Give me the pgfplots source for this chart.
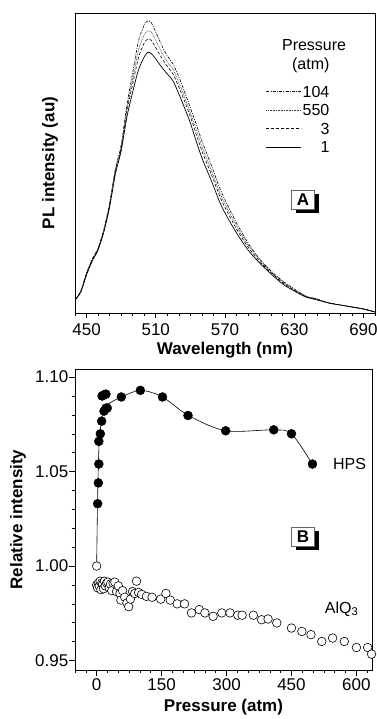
\documentclass[border=0pt]{standalone}
\usepackage{fontspec}
\setmainfont{Liberation Sans}
\usepackage{pgfplots}
\pgfplotsset{compat=1.18}
\begin{document}
\begin{tikzpicture}
\path[use as bounding box] (0pt,0pt) rectangle (376pt,719pt);
\pgfplotsset{
  myaxis/.style={
    scale only axis,
    tick align=outside,
    xtick pos=lower, ytick pos=left,
    major tick length=5.5pt, minor tick length=3pt,
    tick style={black, line width=0.6pt},
    axis line style={line width=0.8pt},
    ticklabel style={font=\fontsize{17}{20}\selectfont},
    /pgf/number format/assume math mode=true,
    label style={font=\bfseries\fontsize{17}{20}\selectfont},
  }
}
% ---------------- Panel A ----------------
\begin{axis}[myaxis,
  at={(75pt,406pt)}, anchor=south west,
  width=300pt, height=300pt,
  xmin=440, xmax=700, ymin=0, ymax=300,
  xtick={390,450,510,570,630,690,750}, minor x tick num=5,
  ytick=\empty,
  xticklabel style={yshift=-2pt},
  xlabel={Wavelength (nm)}, ylabel={PL intensity (au)},
  xlabel style={at={(axis description cs:0.5,-0.1233)}, anchor=center},
  ylabel style={at={(axis description cs:-0.0833,0.5)}, anchor=center},
  legend style={at={(axis description cs:0.636,0.758)}, anchor=north west,
    draw=none, fill=none, inner sep=0pt,
    font=\fontsize{16}{19}\selectfont,
    nodes={inner sep=0pt, text height=11.5pt, text depth=0pt},
    /tikz/row sep=7pt, /tikz/column sep=1pt},
  legend cell align=right,
  legend image code/.code={\draw[#1] (0pt,0pt) -- (35pt,0pt);},
]
\addplot[black, line width=0.6pt, smooth, dash pattern=on 3pt off 1.2pt on 1pt off 1.2pt] coordinates {
(440,13) (445,22) (450,40) (455,54) (460,65) (465,84) (470,110) (475,144) (480,168)
(485,208) (490,240) (495,272) (500,288) (503,292) (506,290.5) (510,281) (515,268)
(520,257) (525,249) (530,236) (535,221) (540,205) (545,189) (550,172) (555,157)
(560,142) (565,126) (570,113) (580,90) (590,70) (600,54) (610,42) (620,32) (630,24)
(640,17) (650,14) (660,10) (670,8) (680,6) (690,4) (700,1)};
\addlegendentry{104}
\addplot[black!75, line width=0.6pt, smooth, dash pattern=on 0.8pt off 0.8pt] coordinates {
(440,13) (445,21.5) (450,39.5) (455,53.5) (460,64.5) (465,83) (470,108.5) (475,142.5)
(480,166) (485,204) (490,234) (495,263) (500,278) (503,282) (506,281) (510,272.5)
(515,261) (520,251) (525,243.5) (530,230.5) (535,216) (540,200) (545,183.5) (550,166.5)
(555,152) (560,137) (565,121.5) (570,109) (580,87) (590,68) (600,53) (610,41) (620,31)
(630,23.5) (640,16.7) (650,13.7) (660,10) (670,8) (680,6) (690,4) (700,1)};
\addlegendentry{550}
\addplot[black, line width=0.6pt, smooth, dash pattern=on 3pt off 2pt] coordinates {
(440,13) (445,21) (450,39) (455,53) (460,64) (465,82) (470,107.5) (475,141) (480,164.5)
(485,201.5) (490,229) (495,255) (500,270) (503,273.7) (506,272.7) (510,265.3) (515,255.2)
(520,246.6) (525,239) (530,226) (535,211.7) (540,196.3) (545,179) (550,162) (555,147.7)
(560,133.3) (565,118) (570,105.5) (580,84) (590,66) (600,51.7) (610,40.3) (620,30.3)
(630,22.8) (640,16.4) (650,13.4) (660,10) (670,8) (680,6) (690,4) (700,1)};
\addlegendentry{3}
\addplot[black, line width=0.7pt, smooth] coordinates {
(440,13) (445,21) (450,38) (455,52) (460,63) (465,81) (470,106) (475,139) (480,162)
(485,196) (490,221) (495,243) (500,256) (503,260.5) (506,259.5) (510,254) (515,246)
(520,239) (525,232) (530,219) (535,205) (540,190) (545,172) (550,155) (555,141)
(560,127) (565,112) (570,100) (580,80) (590,63) (600,50) (610,39) (620,29) (630,22)
(640,16) (650,13) (660,10) (670,8) (680,6) (690,4) (700,1)};
\addlegendentry{1}
\node[font=\fontsize{16}{19}\selectfont] at (rel axis cs:0.797,0.893) {Pressure};
\node[font=\fontsize{16}{19}\selectfont] at (rel axis cs:0.786,0.827) {(atm)};
\node[fill=black, minimum width=23pt, minimum height=19pt, inner sep=0pt, xshift=4pt, yshift=-4pt] at (rel axis cs:0.76,0.377) {};
\node[draw=black!60, fill=white, line width=0.6pt, minimum width=23pt, minimum height=19pt, inner sep=0pt, font=\bfseries\fontsize{17}{20}\selectfont] at (rel axis cs:0.76,0.377) {A};
\end{axis}
% ---------------- Panel B ----------------
\begin{axis}[myaxis,
  at={(75pt,49pt)}, anchor=south west,
  width=297pt, height=301pt,
  xmin=-50, xmax=636, ymin=0.945, ymax=1.1043,
  xtick={-150,0,150,300,450,600,750}, minor x tick num=5,
  ytick={0.90,0.95,1.00,1.05,1.10,1.15}, minor y tick num=4,
  yticklabel style={inner sep=1pt, /pgf/number format/.cd, fixed, fixed zerofill, precision=2},
  xlabel={Pressure (atm)}, ylabel={Relative intensity},
  xlabel style={at={(axis description cs:0.5,-0.122)}, anchor=center},
  ylabel style={at={(axis description cs:-0.192,0.5)}, anchor=center},
]
% HPS line
\addplot[black, line width=0.6pt, smooth, tension=0.5, no marks] coordinates {
(0,1.000) (2,1.033) (4,1.054) (6,1.066) (10,1.075) (15,1.082) (25,1.0855) (57,1.0895)
(102,1.093) (152,1.0895) (212,1.0797) (298,1.0716) (409,1.0721) (450,1.070) (498,1.054)};
% AlQ3 open circles
\addplot[only marks, mark=*, mark size=4.3pt, mark options={fill=white, draw=black, line width=0.6pt}] coordinates {
(0,0.990) (2,0.9885) (4,0.991) (6,0.9895) (8,0.992) (10,0.9875) (12,0.991) (14,0.9905)
(16,0.988) (18,0.992) (20,0.9895) (23,0.991) (26,0.9915) (29,0.9885) (32,0.9905)
(35,0.987) (38,0.991) (42,0.9915) (46,0.9865) (50,0.9895) (54,0.9855) (56,0.982)
(60,0.987) (65,0.9835) (70,0.9805) (74,0.9785) (78,0.9825) (83,0.9865) (88,0.9855)
(92,0.992) (97,0.986) (104,0.985) (115,0.984) (128,0.9835) (148,0.9825) (160,0.9855)
(170,0.982) (186,0.980) (203,0.980) (219,0.9752) (237,0.977) (250,0.9752) (269,0.9734)
(289,0.9752) (308,0.9752) (326,0.974) (336,0.974) (362,0.974) (381,0.9716) (396,0.972)
(416,0.9699) (450,0.9672) (474,0.9654) (495,0.9637) (520,0.9601) (545,0.9619)
(572,0.9601) (600,0.9569) (626,0.9569) (635,0.9534) (0,1.000)};
% HPS filled circles
\addplot[only marks, mark=*, mark size=4.5pt, mark options={fill=black, draw=black}] coordinates {
(2.3,1.033) (4,1.044) (5,1.054) (5,1.066) (8.5,1.070) (11.5,1.0767) (17,1.082)
(21.5,1.0836) (24.5,1.0836) (12.5,1.090) (17.5,1.0907) (21.5,1.091) (57,1.0895)
(101,1.093) (152,1.0895) (211,1.0797) (298,1.0716) (409,1.0721) (450,1.070) (498.5,1.054)};
\node[anchor=base west, font=\fontsize{16}{19}\selectfont] at (axis cs:538,1.0513) {HPS};
\node[anchor=base west, font=\fontsize{16}{19}\selectfont] at (axis cs:519,0.9751) {AlQ\textsubscript{3}};
\node[fill=black, minimum width=23pt, minimum height=19pt, inner sep=0pt, xshift=4pt, yshift=-4pt] at (rel axis cs:0.768,0.442) {};
\node[draw=black!60, fill=white, line width=0.6pt, minimum width=23pt, minimum height=19pt, inner sep=0pt, font=\bfseries\fontsize{17}{20}\selectfont] at (rel axis cs:0.768,0.442) {B};
\end{axis}
\end{tikzpicture}
\end{document}
